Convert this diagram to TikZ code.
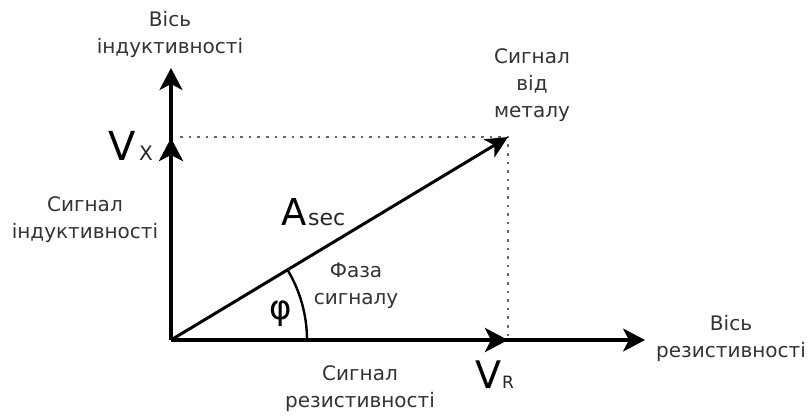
\documentclass[tikz,border=0pt]{standalone}
\usepackage{fontspec}
\setmainfont{DejaVu Sans}
\usetikzlibrary{arrows.meta}
\begin{document}
\begin{tikzpicture}[x=1pt,y=-1pt,
  lbl/.style={align=center,inner sep=0pt,text=black!80,font=\fontsize{20}{27}\selectfont},
  big/.style={inner sep=0pt,anchor=base west,font=\fontsize{40}{42}\selectfont},
  sub/.style={inner sep=0pt,anchor=base west,text=black!85},
  axis/.style={line width=3.2pt,-{Stealth[length=22pt,width=23pt,inset=6pt]}},
  vec/.style={line width=4.5pt,-{Stealth[length=23pt,width=24pt,inset=6pt]}},
  avec/.style={line width=3pt,-{Stealth[length=22pt,width=21pt,inset=6pt]}},
  guide/.style={line width=2.6pt,dash pattern=on 2.6pt off 6pt,black!60},
  anglearc/.style={line width=2.4pt}]
\useasboundingbox (0,0) rectangle (808,416);
\fill[white] (0,0) rectangle (808,416);
\coordinate (O) at (171,340);
\coordinate (ytip) at (171,68);
\coordinate (vx) at (171,138);
\coordinate (xtip) at (645,340);
\coordinate (vr) at (508,340);
\coordinate (s) at (508,137);
\coordinate (arcstart) at (307,340);
% guides
\draw[guide] (180,137) -- (s) -- (s |- O);
% axes
\draw[axis] (O) -- (ytip);
\draw[axis] (O) -- (xtip);
% vectors
\draw[vec] (O) -- (vx);
\draw[vec] (O) -- (vr);
\draw[avec] (O) -- (s);
% angle
\draw[anglearc] (arcstart) arc[start angle=0,end angle=-31.1,radius=136];
% labels
\node[lbl] (yaxis) at (170,34) {Вісь\\індуктивності};
\node[lbl] (ysig) at (85,220) {Сигнал\\індуктивності};
\node[lbl] (metal) at (532,85) {Сигнал\\від\\металу};
\node[lbl] (phase) at (356,286) {Фаза\\сигналу};
\node[lbl] (xsig) at (360,389) {Сигнал\\резистивності};
\node[lbl] (xaxis) at (731,338) {Вісь\\резистивності};
\node[big] (V1) at (108,160) {V};
\node[sub,font=\fontsize{20}{20}\selectfont] (X1) at (139,160) {X};
\node[big,font=\fontsize{38}{40}\selectfont] (V2) at (475,388) {V};
\node[sub,font=\fontsize{17}{18}\selectfont] (R1) at (502,388) {R};
\node[big,font=\fontsize{37}{40}\selectfont] (A1) at (281,225) {A};
\node[sub,font=\fontsize{22}{22}\selectfont] (sec) at (308,225) {sec};
\node[inner sep=0pt,font=\fontsize{34}{36}\selectfont] (phi) at (281,314) {φ};
\end{tikzpicture}
\end{document}
